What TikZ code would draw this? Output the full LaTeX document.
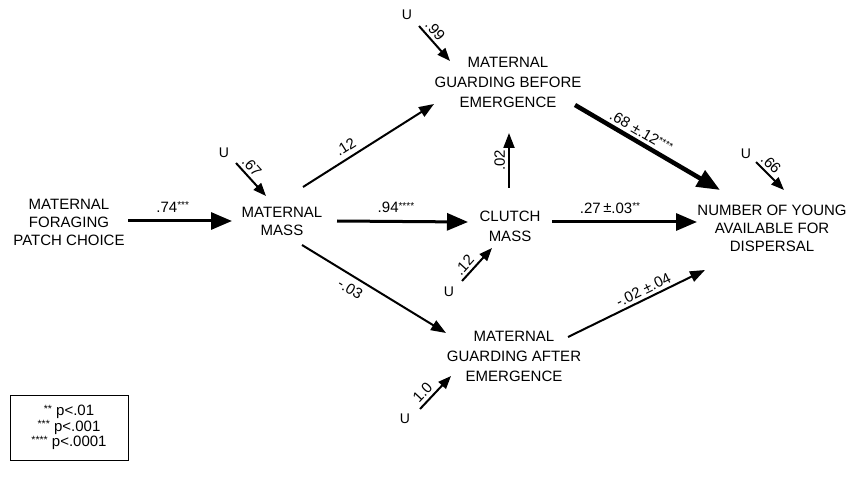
\documentclass[tikz,border=0pt]{standalone}
\usepackage{fontspec}
\setmainfont{Liberation Sans}
\usetikzlibrary{arrows.meta,calc}
\newcommand{\stars}[1]{\raisebox{0.45ex}{\fontsize{10}{10}\selectfont #1}}
\newcommand{\lstars}[1]{\raisebox{0.45ex}{\fontsize{10.5}{10.5}\selectfont #1}}
\begin{document}
\begin{tikzpicture}[x=1pt,y=1pt,
  var/.style={align=center, inner sep=0pt, font=\fontsize{15}{18}\selectfont},
  vartwo/.style={align=center, inner sep=0pt, font=\fontsize{15}{20}\selectfont},
  lab/.style={font=\fontsize{15}{15}\selectfont, inner sep=1pt},
  bigarr/.style={line width=3pt, -{Triangle[length=21pt,width=17pt]}},
  thinarr/.style={line width=2pt, -{Triangle[length=15pt,width=11pt]}},
  thickarr/.style={line width=4.5pt, -{Triangle[length=23pt,width=18pt]}},
  uarr/.style={line width=2pt, -{Triangle[length=13pt,width=10pt]}},
  unode/.style={font=\fontsize{14}{14}\selectfont, inner sep=0pt},
]
\useasboundingbox (0,0) rectangle (858,477);

% variables
\node[var] (forage) at (69,255) {MATERNAL\\FORAGING\\PATCH CHOICE};
\node[var] (mass) at (282,256) {MATERNAL\\MASS};
\node[vartwo] (gb) at (508,395) {MATERNAL\\GUARDING BEFORE\\EMERGENCE};
\node[vartwo] (clutch) at (510,251) {CLUTCH\\MASS};
\node[var] (number) at (772,249) {NUMBER OF YOUNG\\AVAILABLE FOR\\DISPERSAL};
\node[vartwo] (ga) at (514,121) {MATERNAL\\GUARDING AFTER\\EMERGENCE};

% U nodes
\node[unode] (u1) at (224,324) {U};
\node[unode] (u2) at (407,462) {U};
\node[unode] (u3) at (449,185) {U};
\node[unode] (u4) at (405,58) {U};
\node[unode] (u5) at (746,323) {U};

% path arrows
\draw[bigarr] ($(forage)+(59,1)$) -- node[lab,pos=0.43,above=6pt]{.74\stars{***}} ($(mass)+(-50,0)$);
\draw[thinarr] ($(mass)+(21,34)$) -- node[lab,pos=0.37,sloped,above=4pt]{.12} ($(gb)+(-74,-22)$);
\draw[bigarr] ($(mass)+(55,0)$) -- node[lab,pos=0.45,above=6pt]{.94\stars{****}} ($(clutch)+(-42,4)$);
\draw[thinarr] ($(mass)+(20,-24)$) -- node[lab,pos=0.38,sloped,below=5pt]{-.03} ($(ga)+(-68,23)$);
\draw[thinarr] ($(clutch)+(-1,38)$) -- node[lab,sloped,above=2pt]{.02} ($(gb)+(1,-51)$);
\draw[bigarr] ($(clutch)+(42,4)$) -- node[lab,pos=0.4,above=6pt]{.27\,\raisebox{0.15ex}{±}.03\stars{**}} ($(number)+(-75,6)$);
\draw[thickarr] ($(gb)+(67,-23)$) -- node[lab,pos=0.42,sloped,above=2pt]{.68 ±.12\stars{****}} ($(number)+(-52,38)$);
\draw[thinarr] ($(ga)+(54,19)$) -- node[lab,pos=0.58,sloped,above=2pt]{-.02 ±.04} ($(number)+(-67,-42)$);

% residual arrows
\draw[uarr] ($(u1)+(12,-10)$) -- node[lab,pos=0.3,sloped,above=2pt]{.67} ($(mass)+(-16,25)$);
\draw[uarr] ($(u2)+(12,-11)$) -- node[lab,pos=0.3,sloped,above=2pt]{.99} ($(gb)+(-58,21)$);
\draw[uarr] ($(u3)+(13,11)$) -- node[lab,pos=0.3,sloped,above=2pt]{.12} ($(clutch)+(-18,-22)$);
\draw[uarr] ($(u4)+(15,10)$) -- node[lab,pos=0.3,sloped,above=2pt]{1.0} ($(ga)+(-63,-20)$);
\draw[uarr] ($(u5)+(10,-8)$) -- node[lab,pos=0.3,sloped,above=2pt]{.66} ($(number)+(12,38)$);

% legend
\node[draw, line width=1pt, minimum width=118pt, minimum height=65pt, align=center,
      font=\fontsize{15}{15.5}\selectfont] (legend) at (69,49.5)
  {\lstars{**} p<.01\\\lstars{***} p<.001\\\lstars{****} p<.0001};
\end{tikzpicture}
\end{document}
